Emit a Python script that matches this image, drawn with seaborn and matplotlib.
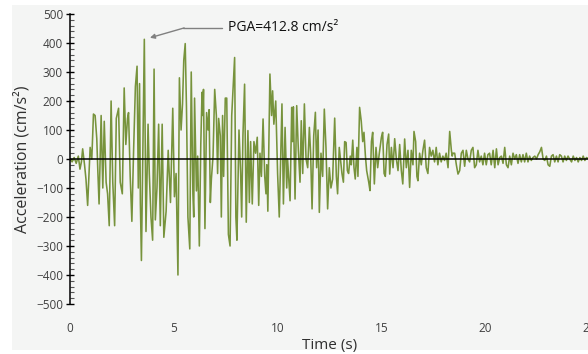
import matplotlib
matplotlib.use("Agg")
import matplotlib.pyplot as plt
import seaborn as sns
import pandas as pd
from matplotlib.patches import Rectangle
from matplotlib.ticker import MultipleLocator

# Time (s) of each read-off sample
time_s = [0.0, 0.1, 0.2, 0.3, 0.4, 0.48, 0.55, 0.61, 0.7, 0.77, 0.85, 0.92, 0.97, 1.05, 1.13, 1.21, 1.29,
          1.34, 1.40, 1.50, 1.58, 1.65, 1.74, 1.81, 1.89, 1.98, 2.06, 2.15, 2.23, 2.34, 2.42, 2.52, 2.61,
          2.69, 2.77, 2.82, 2.90, 2.98, 3.06, 3.15, 3.23, 3.29, 3.35, 3.39, 3.44, 3.52, 3.58, 3.66, 3.76,
          3.82, 3.90, 3.98, 4.05, 4.11, 4.19, 4.27, 4.35, 4.44, 4.52, 4.63, 4.73, 4.84, 4.95, 5.03, 5.11,
          5.20, 5.27, 5.35, 5.42, 5.48, 5.55, 5.61, 5.68, 5.77, 5.84, 5.92, 5.96, 6.00, 6.09, 6.15, 6.23,
          6.30, 6.36, 6.40, 6.43, 6.50, 6.58, 6.65, 6.70, 6.76, 6.81, 6.89, 6.97, 7.05, 7.11, 7.16, 7.24,
          7.29, 7.35, 7.40, 7.48, 7.55, 7.63, 7.71, 7.79, 7.93, 7.99, 8.04, 8.14, 8.22, 8.27, 8.33, 8.41,
          8.49, 8.57, 8.64, 8.70, 8.78, 8.86, 8.94, 9.02, 9.09, 9.15, 9.22, 9.30, 9.38, 9.44, 9.48, 9.53,
          9.63, 9.71, 9.76, 9.82, 9.91, 10.00, 10.08, 10.16, 10.21, 10.28, 10.36, 10.44, 10.48, 10.60,
          10.68, 10.72, 10.76, 10.84, 10.92, 11.00, 11.08, 11.14, 11.21, 11.29, 11.37, 11.45, 11.53, 11.59,
          11.66, 11.74, 11.82, 11.88, 11.95, 12.01, 12.09, 12.17, 12.25, 12.33, 12.41, 12.49, 12.57, 12.65,
          12.75, 12.83, 12.89, 12.97, 13.10, 13.17, 13.23, 13.30, 13.36, 13.42, 13.50, 13.55, 13.62, 13.68,
          13.74, 13.82, 13.87, 13.95, 14.03, 14.10, 14.16, 14.23, 14.29, 14.39, 14.45, 14.52, 14.58, 14.66,
          14.74, 14.82, 14.90, 15.00, 15.06, 15.13, 15.19, 15.27, 15.35, 15.40, 15.48, 15.56, 15.64, 15.72,
          15.80, 15.88, 15.96, 16.03, 16.12, 16.20, 16.28, 16.36, 16.44, 16.52, 16.57, 16.65, 16.71, 16.76,
          16.84, 16.92, 17.00, 17.08, 17.16, 17.24, 17.32, 17.40, 17.48, 17.56, 17.64, 17.72, 17.80, 17.88,
          17.96, 18.04, 18.12, 18.21, 18.29, 18.37, 18.41, 18.45, 18.53, 18.61, 18.69, 18.77, 18.85, 18.93,
          19.01, 19.09, 19.17, 19.25, 19.33, 19.41, 19.49, 19.57, 19.65, 19.73, 19.81, 19.89, 19.97, 20.05,
          20.13, 20.21, 20.29, 20.38, 20.46, 20.54, 20.62, 20.70, 20.78, 20.86, 20.94, 21.02, 21.10, 21.18,
          21.26, 21.34, 21.42, 21.50, 21.58, 21.66, 21.74, 21.82, 21.90, 21.98, 22.06, 22.14, 22.22, 22.30,
          22.39, 22.47, 22.55, 22.63, 22.71, 22.79, 22.87, 22.95, 23.03, 23.11, 23.19, 23.27, 23.35, 23.43,
          23.51, 23.59, 23.67, 23.75, 23.83, 23.91, 23.99, 24.07, 24.16, 24.24, 24.32, 24.40, 24.48, 24.56,
          24.64, 24.72, 24.80, 24.88, 25.00]

# Acceleration (cm/s^2)
accel = [0, -10, 5, -15, 10, -35, -10, 35, -20, -70, -160, -40, 40, 0, 155, 150, 70,
         -40, -155, 150, -100, 130, -80, -120, -230, 200, -80, -230, 140, 175, -80, -120, 245,
         50, 140, 160, -60, -215, 20, 250, 320, -100, 260, -150, -350, 80, 412.8, -250, 120,
         -50, -200, -280, 310, -210, -100, 120, -230, 120, -270, -180, 30, -150, 175, -130, -50,
         -400, 280, 100, 190, 340, 398, 180, -200, -310, 300, -120, -200, 210, -110, 10, -300,
         50, 230, 150, 240, -240, 160, 100, 170, -150, -70, 10, 240, 150, -50, 140, 80,
         -200, 150, -60, 210, 210, -260, -300, 150, 350, -200, -280, 100, -50, -200, 80, 258,
         -218, 98, -150, 60, -155, 60, 20, 75, -160, 20, -60, 138, -60, -120, -20, -180,
         293, 150, 235, 120, 200, -50, -200, 50, 190, -155, 109, -100, 0, -144,
         178, 60, 180, -138, 184, 30, -80, 132, -50, 190, 0, -30, 109, 20,
         -172, 80, 161, -30, 100, -184, 20, -60, 172, 40, -172, -30, -100, -70,
         141, -60, -120, 40, -50, -80, 60, 57, -40, -50, 10, -20, 65, -30,
         -69, 40, -60, 178, 130, 60, 92, 10, -40, -80, -109, 60, 92, -86,
         40, -30, 20, 75, 92, -50, -60, 50, 86, -52, 40, -30, 70, 0,
         -40, 50, -40, -86, 69, -30, 30, -98, 30, -20, 95, 60, -60, -75,
         20, -20, 30, 65, -30, -50, 40, 10, 30, -10, 40, -20, 20, -10,
         10, -5, 20, -30, 95, 30, 10, 20, 20, -20, -52, -40, 20, 30,
         -25, 30, 0, -10, 30, 40, -30, -20, 30, -10, 10, -20, 20, -20,
         15, 20, -20, 30, -30, 35, -20, 5, 10, -15, 40, -20, -30, 10,
         -20, 20, 0, 15, -15, 15, -10, 15, -10, 20, -10, 10, -5, 5,
         10, 0, 15, 25, 40, 0, -5, 10, -20, -25, 10, 15, -10, 10,
         -10, 15, 10, -10, 10, -5, 10, 0, -10, 10, -5, 5, -10, 5,
         -5, 10, -5, 5, 0]

y_ticks = [-500, -400, -300, -200, -100, 0, 100, 200, 300, 400, 500]
x_ticks = [0, 5, 10, 15, 20, 25]
pga_label = "PGA=412.8 cm/s²"
x_label = "Time (s)"
y_label = "Acceleration (cm/s²)"

sns.set_theme(style="white")
plt.rcParams["font.family"] = ["Open Sans", "DejaVu Sans"]

BG = "#f4f5f4"
LINE = "#77933c"
TXT = "#404040"

fig = plt.figure(figsize=(5.88, 3.54), dpi=100, facecolor="white")
fig.patches.append(Rectangle((12 / 588, 4 / 354), 1 - 12 / 588, 345 / 354,
                             transform=fig.transFigure, facecolor=BG, edgecolor="none", zorder=-10))
ax = fig.add_axes([70 / 588, 50 / 354, 519 / 588, 290 / 354])
ax.set_facecolor("none")

df = pd.DataFrame({"t": time_s, "a": accel})
sns.lineplot(data=df, x="t", y="a", ax=ax, sort=False, estimator=None,
             color=LINE, linewidth=1.15, zorder=2)
ax.axhline(0, color="black", linewidth=1.1, zorder=3)

ax.set_xlim(0, 25)
ax.set_ylim(-500, 500)
ax.set_xticks(x_ticks)
ax.set_yticks(y_ticks)
ax.yaxis.set_minor_locator(MultipleLocator(20))
for s in ["top", "right", "bottom"]:
    ax.spines[s].set_visible(False)
ax.spines["left"].set_color("black")
ax.spines["left"].set_linewidth(1.1)
ax.spines["left"].set_zorder(4)

ax.tick_params(axis="y", which="major", direction="inout", length=6, width=1, color="black",
               labelsize=8.5, labelcolor=TXT, pad=2, left=True)
ax.tick_params(axis="y", which="minor", direction="in", length=3, width=0.8, color="#555555", left=True)
ax.tick_params(axis="x", which="both", length=0, labelsize=8.5, labelcolor=TXT, pad=13)

ax.set_xlabel(x_label, fontsize=11, color="#303030", labelpad=2)
ax.set_ylabel(y_label, fontsize=11.5, color="#303030", labelpad=4)

# PGA annotation: horizontal leader then arrow to peak
ax.plot([5.45, 7.3], [452, 452], color="#808080", linewidth=1, clip_on=False, zorder=5)
ax.annotate("", xy=(3.85, 418), xytext=(5.5, 452),
            arrowprops=dict(arrowstyle="-|>", color="#808080", lw=1, mutation_scale=7,
                            shrinkA=0, shrinkB=0), zorder=5)
ax.text(7.6, 452, pga_label, fontsize=10, color="#111111", va="center", ha="left")

fig.savefig("out.png", dpi=100, facecolor="white")
